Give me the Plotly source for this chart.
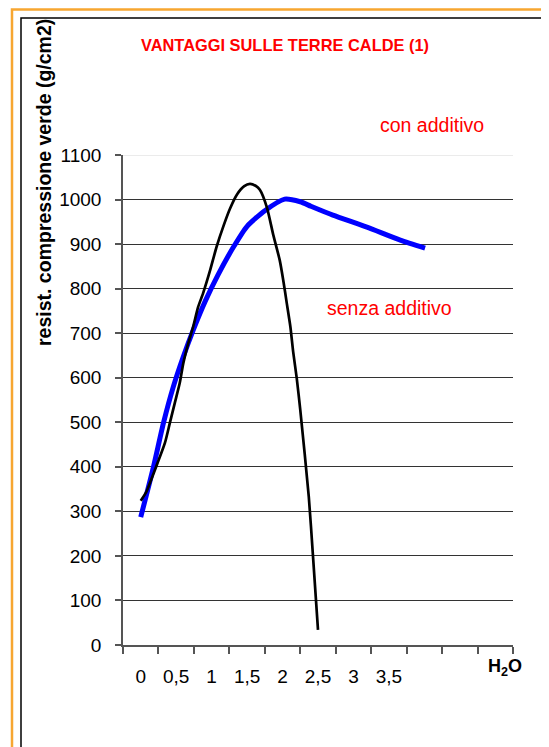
import plotly.graph_objects as go

# --- data ---
tick_vals = [0, 0.5, 1, 1.5, 2, 2.5, 3, 3.5]
tick_text = ["0", "0,5", "1", "1,5", "2", "2,5", "3", "3,5"]
y_ticks = [0, 100, 200, 300, 400, 500, 600, 700, 800, 900, 1000, 1100]

con_x = [0.0, 0.18, 0.32, 0.46, 0.60, 0.74, 0.91, 1.09, 1.31, 1.50, 1.75, 2.03, 2.25, 2.40, 2.71, 3.19, 3.66, 4.01]
con_y = [287, 400, 498, 580, 647, 707, 772, 831, 894, 940, 975, 1001, 995, 985, 965, 938, 909, 891]

senza_x = [0.0, 0.08, 0.20, 0.34, 0.41, 0.48, 0.55, 0.60, 0.67, 0.74, 0.81, 0.88, 0.98, 1.07, 1.17,
           1.26, 1.36, 1.46, 1.54, 1.62, 1.68, 1.78, 1.87, 1.96, 2.01, 2.06, 2.11, 2.15, 2.20, 2.25,
           2.37, 2.43, 2.50]
senza_y = [324, 344, 393, 453, 498, 543, 588, 632, 677, 715, 759, 790, 842, 894, 942,
           980, 1012, 1030, 1035, 1031, 1022, 982, 920, 864, 819, 767, 715, 658, 599, 528,
           333, 198, 34]

FONT = "Liberation Sans, Arial, sans-serif"
W, H = 549, 747
OFF = 8  # page body margin offset
L, T = 123 - OFF, 155 - OFF
pw, ph = 390, 490
R = W - L - pw
B = H - T - ph

def px(x):
    return (x - OFF - L) / pw

def py(y):
    return (T + ph - (y - OFF)) / ph

fig = go.Figure()
fig.add_trace(go.Scatter(x=con_x, y=con_y, mode="lines",
                         line=dict(color="#0000FF", width=5, shape="spline", smoothing=0.6),
                         showlegend=False, hoverinfo="skip"))
fig.add_trace(go.Scatter(x=senza_x, y=senza_y, mode="lines",
                         line=dict(color="#000000", width=2.7, shape="spline", smoothing=0.6),
                         showlegend=False, hoverinfo="skip"))

fig.update_layout(
    width=W, height=H,
    margin=dict(l=L, r=R, t=T, b=B),
    paper_bgcolor="white", plot_bgcolor="white",
    font=dict(family=FONT, color="#000000", size=19),
    title=dict(text="<b>VANTAGGI SULLE TERRE CALDE (1)</b>",
               font=dict(family=FONT, size=16.4, color="#FF0000"),
               xref="container", yref="container",
               x=(285 - OFF) / W, y=1 - (45 - OFF) / H, xanchor="center", yanchor="middle"),
    xaxis=dict(range=[-0.25, 5.25], tickvals=tick_vals, ticktext=tick_text,
               ticks="", showgrid=False, zeroline=False,
               showline=True, linecolor="#555555", linewidth=1.5,
               ticklabelstandoff=13,
               tickfont=dict(family=FONT, size=19, color="#000000"),
               minor=dict(tick0=-0.25, dtick=0.5, ticks="outside", ticklen=7,
                          tickcolor="#555555", tickwidth=1.5, showgrid=False)),
    yaxis=dict(range=[0, 1100], tickvals=y_ticks, ticks="outside", ticklen=6,
               tickcolor="#555555", tickwidth=1.5,
               showgrid=True, gridcolor="#333333", gridwidth=1, zeroline=False,
               showline=True, linecolor="#555555", linewidth=1.5,
               ticklabelstandoff=10,
               tickfont=dict(family=FONT, size=19, color="#000000")),
)

shapes = [
    # light top gridline at 1100
    dict(type="line", xref="paper", yref="y", x0=0, x1=1, y0=1100, y1=1100,
         line=dict(color="#E4E4E4", width=1.5)),
    # black inner border
    dict(type="rect", xref="paper", yref="paper",
         x0=px(21), x1=px(542), y0=py(780), y1=py(18),
         line=dict(color="#000000", width=1.5)),
    # orange outer border
    dict(type="rect", xref="paper", yref="paper",
         x0=px(12), x1=px(580), y0=py(780), y1=py(9.5),
         line=dict(color="#F7A631", width=2.5)),
]
fig.update_layout(shapes=shapes)

fig.add_annotation(text="<b>resist. compressione verde (g/cm2)</b>", xref="paper", yref="paper",
                   x=px(44), y=py(183), textangle=-90, showarrow=False,
                   xanchor="center", yanchor="middle",
                   font=dict(family=FONT, size=19.5, color="#000000"))
fig.add_annotation(text="con additivo", xref="paper", yref="paper",
                   x=px(432), y=py(125), showarrow=False, xanchor="center", yanchor="middle",
                   font=dict(family=FONT, size=19.5, color="#FF0000"))
fig.add_annotation(text="senza additivo", xref="paper", yref="paper",
                   x=px(389), y=py(308), showarrow=False, xanchor="center", yanchor="middle",
                   font=dict(family=FONT, size=19.5, color="#FF0000"))
fig.add_annotation(text="<b>H<sub>2</sub>O</b>", xref="paper", yref="paper",
                   x=px(505), y=py(667), showarrow=False, xanchor="center", yanchor="middle",
                   font=dict(family=FONT, size=18, color="#000000"))

fig.write_html("out.html")
